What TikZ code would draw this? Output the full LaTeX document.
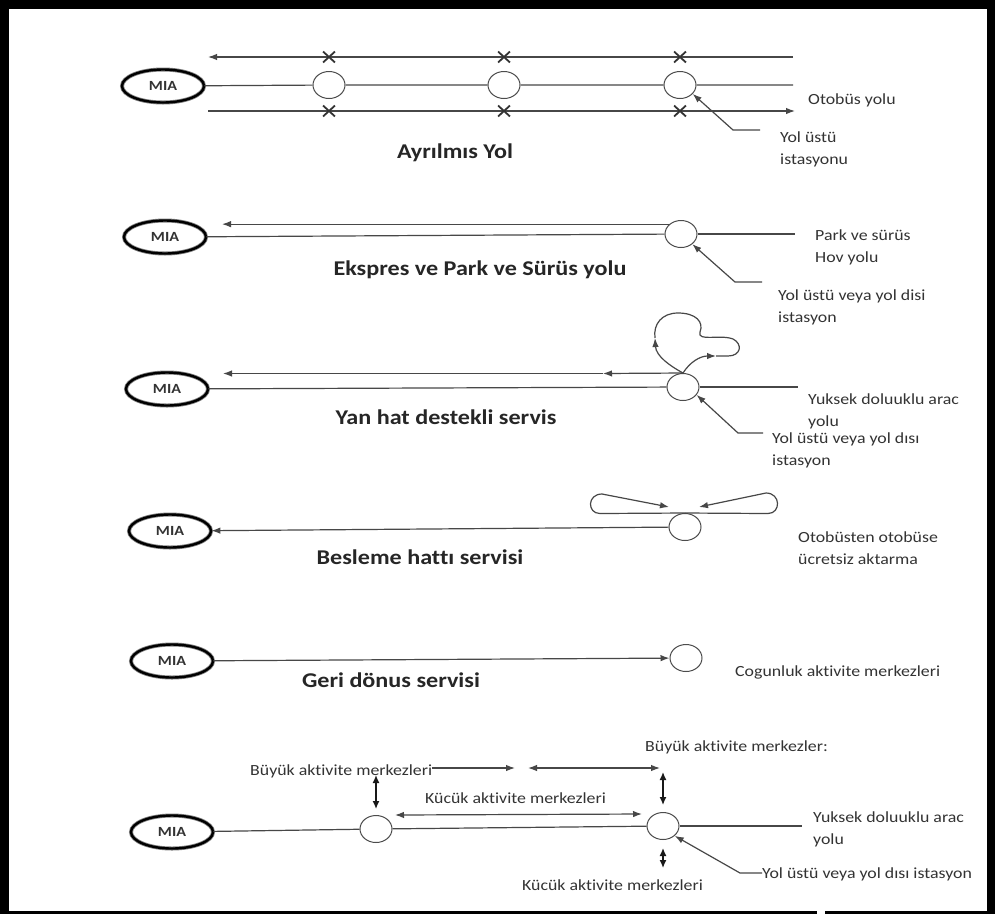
\documentclass[tikz,border=0pt]{standalone}
\usepackage{fontspec}
\setmainfont{Carlito}[FakeStretch=1.15, Ligatures={NoCommon}]
\usetikzlibrary{arrows.meta,shapes.geometric,shapes.misc}
\begin{document}
\begin{tikzpicture}[x=1pt,y=-1pt,
 ln/.style={draw=black!72, line width=1.2pt},
 arr/.style={ln,-{Latex[length=9pt,width=6.5pt]}},
 darr/.style={ln,{Latex[length=9pt,width=6.5pt]}-{Latex[length=9pt,width=6.5pt]}},
 varr/.style={draw=black!90, line width=1.4pt,{Latex[length=8pt,width=7pt]}-{Latex[length=8pt,width=7pt]}},
 mia/.style={ellipse, draw=black!50, line width=0.8pt, double=black, double distance=2.4pt, minimum width=82pt, minimum height=33pt, inner sep=0pt, font=\bfseries\fontsize{14}{14}\selectfont, text=black!80},
 stn/.style={ellipse, draw=black!70, line width=1pt, minimum width=32pt, minimum height=27pt, inner sep=0pt},
 lbl/.style={anchor=west, align=left, font=\fontsize{15.5}{22}\selectfont, text=black!80, inner sep=0pt},
 ttl/.style={font=\bfseries\fontsize{21}{24}\selectfont, text=black!85, inner sep=0pt},
 xm/.style={cross out, draw=black!80, line width=1.8pt, minimum width=10pt, minimum height=9pt, inner sep=0pt}
]
% frame
\fill[black] (0,0) rectangle (995,914);
\fill[white] (9,9) rectangle (987,911);
\fill[white] (817,911) rectangle (825,914);

% ---------- Panel 1: Ayrilmis Yol ----------
\node[mia] (m1) at (163,86) {MIA};
\node[stn] (s11) at (329,85) {};
\node[stn] (s12) at (504,85) {};
\node[stn] (s13) at (680,85) {};
\coordinate (t1r) at (793,57);
\coordinate (t1l) at (208,57);
\draw[arr] (t1r) -- (t1l);
\coordinate (r1) at (793,85);
\draw[ln] (m1) -- (s11) (s11) -- (s12) (s12) -- (s13) (s13) -- (r1);
\coordinate (b1l) at (208,111);
\coordinate (b1r) at (795,111);
\draw[arr] (b1l) -- (b1r);
\node[xm] (x11) at (329,57) {};
\node[xm] (x12) at (504,57) {};
\node[xm] (x13) at (680,57) {};
\node[xm] (x14) at (329,111) {};
\node[xm] (x15) at (504,111) {};
\node[xm] (x16) at (680,111) {};
\node[lbl] (l11) at (808,100) {Otobüs yolu};
\node[lbl] (l12) at (780,149) {Yol üstü\\istasyonu};
\coordinate (p1a) at (760,130);
\coordinate (p1b) at (733,130);
\draw[arr] (p1a) -- (p1b) -- (s13.-35);
\node[ttl] (t1) at (455,153) {Ayrılmıs Yol};

% ---------- Panel 2: Ekspres ----------
\node[mia] (m2) at (165,237) {MIA};
\node[stn] (s2) at (681,234) {};
\coordinate (a2) at (222,0);
\draw[arr] (s2.140) -- (s2.140 -| a2);
\draw[ln] (m2) -- (s2);
\coordinate (r2) at (795,234);
\draw[ln] (s2) -- (r2);
\node[lbl] (l21) at (815,247) {Park ve sürüs\\Hov yolu};
\coordinate (p2a) at (762,282);
\coordinate (p2b) at (735,282);
\draw[arr] (p2a) -- (p2b) -- (s2.-42);
\node[lbl] (l22) at (778,307) {Yol üstü veya yol disi\\istasyon};
\node[ttl] (t2) at (480,270) {Ekspres ve Park ve Sürüs yolu};

% ---------- Panel 3: Yan hat ----------
\node[mia] (m3) at (167,389) {MIA};
\node[stn] (s3) at (683,387) {};
\coordinate (a3m) at (603,373.5);
\coordinate (a3t) at (223,373.5);
\draw[arr] (s3.north) -- (a3m);
\draw[arr] (a3m) -- (a3t);
\draw[ln] (m3) -- (s3);
\coordinate (r3) at (798,387);
\draw[ln] (s3) -- (r3);
\coordinate (lp1) at (655,338);
\coordinate (lp2) at (716,356);
\draw[arr] (s3.north) .. controls (670,366) and (656,356) .. (lp1);
\draw[ln] (lp1) .. controls (653,324) and (662,313) .. (678,313)
   .. controls (696,313) and (704,322) .. (700,332)
   .. controls (697,342) and (720,334) .. (733,339)
   .. controls (743,344) and (741,356) .. (728,356) -- (lp2);
\draw[arr] (s3.north) .. controls (690,362) and (700,356) .. (lp2);
\node[lbl] (l31) at (808,411) {Yuksek doluuklu arac\\yolu};
\coordinate (p3a) at (763,433);
\coordinate (p3b) at (738,433);
\draw[arr] (p3a) -- (p3b) -- (s3.-30);
\node[lbl] (l32) at (772,450) {Yol üstü veya yol dısı\\istasyon};
\node[ttl] (t3) at (446,417) {Yan hat destekli servis};

% ---------- Panel 4: Besleme ----------
\node[mia] (m4) at (170,531) {MIA};
\node[stn] (s4) at (685,527) {};
\draw[arr] (s4) -- (m4);
\coordinate (bt1) at (669,507);
\coordinate (bt2) at (699,507);
\draw[arr] (s4.north) -- (600,513.5) .. controls (587,513.5) and (587,494) .. (602,494) -- (bt1);
\draw[arr] (s4.north) -- (768,513.5) .. controls (781,513.5) and (781,493) .. (766,493) -- (bt2);
\node[lbl] (l41) at (798,548) {Otobüsten otobüse\\ücretsiz aktarma};
\node[ttl] (t4) at (420,557) {Besleme hattı servisi};

% ---------- Panel 5: Geri donus ----------
\node[mia] (m5) at (172,661) {MIA};
\node[stn] (s5) at (686,658) {};
\draw[arr] (m5) -- (s5);
\node[lbl] (l51) at (735,672) {Cogunluk aktivite merkezleri};
\node[ttl] (t5) at (391,680) {Geri dönus servisi};

% ---------- Panel 6 ----------
\node[mia] (m6) at (172,832) {MIA};
\node[stn] (s61) at (376,829) {};
\node[stn] (s62) at (663,826) {};
\draw[ln] (m6) -- (s61);
\draw[ln] (s61) -- (s62);
\coordinate (r6) at (802,826);
\draw[ln] (s62) -- (r6);
\coordinate (k1) at (395,815);
\coordinate (k2) at (642,814);
\draw[darr] (k1) -- (k2);
\node[lbl] (l61) at (250,771) {Büyük aktivite merkezleri};
\coordinate (g1) at (515,768);
\draw[arr] (l61.east |- g1) -- (g1);
\coordinate (g2) at (528,768);
\coordinate (g3) at (660,768);
\draw[darr] (g2) -- (g3);
\node[lbl] (l62) at (645,747) {Büyük aktivite merkezler:};
\node[lbl] (l63) at (425,798) {Kücük aktivite merkezleri};
\node[lbl] (l64) at (522,885) {Kücük aktivite merkezleri};
\coordinate (v1) at (376,775);
\draw[varr, shorten >=6pt] (v1) -- (s61.north);
\coordinate (v2) at (663,772);
\draw[varr, shorten >=7pt] (v2) -- (s62.north);
\coordinate (v3) at (663,868);
\draw[varr, shorten >=8pt] (v3) -- (s62.south);
\node[lbl] (l65) at (813,829) {Yuksek doluuklu arac\\yolu};
\coordinate (p6a) at (762,873);
\coordinate (p6b) at (740,873);
\draw[arr] (p6a) -- (p6b) -- (s62.-40);
\node[lbl] (l66) at (762,874) {Yol üstü veya yol dısı istasyon};
\end{tikzpicture}
\end{document}
